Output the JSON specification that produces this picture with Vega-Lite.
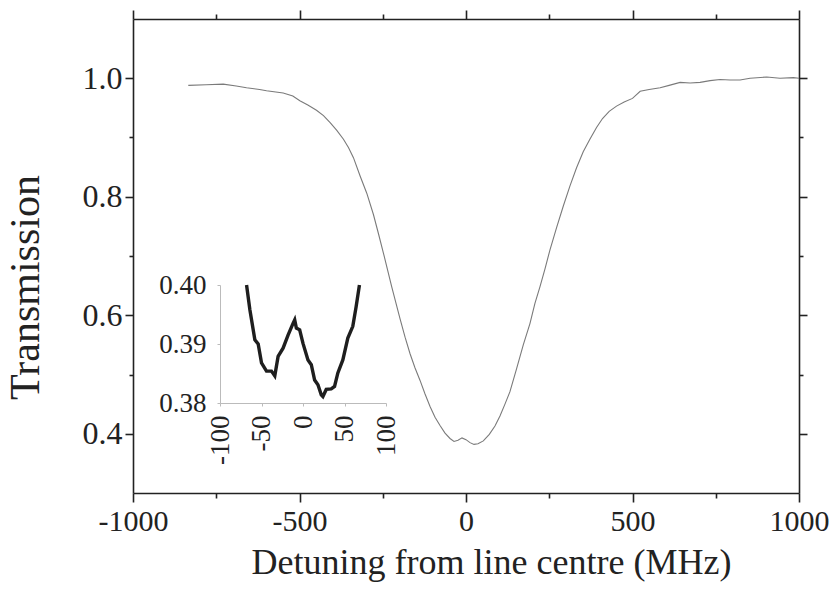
{
  "$schema": "https://vega.github.io/schema/vega-lite/v6.json",
  "width": 666,
  "height": 474,
  "autosize": "none",
  "padding": {"left": 133, "top": 19, "right": 39, "bottom": 103},
  "background": "white",
  "config": {
    "view": {"stroke": null},
    "font": "Liberation Serif",
    "axis": {"grid": false, "labelFont": "Liberation Serif", "titleFont": "Liberation Serif", "titleFontWeight": "normal", "labelColor": "#222", "titleColor": "#222"}
  },
  "datasets": {
    "main": [
      {"d": -834, "t": 0.988}, {"d": -780, "t": 0.989}, {"d": -729, "t": 0.990}, {"d": -690, "t": 0.987},
      {"d": -659, "t": 0.984}, {"d": -620, "t": 0.981}, {"d": -599, "t": 0.979}, {"d": -549, "t": 0.975},
      {"d": -520, "t": 0.970}, {"d": -499, "t": 0.962}, {"d": -475, "t": 0.955}, {"d": -449, "t": 0.946},
      {"d": -428, "t": 0.937}, {"d": -408, "t": 0.925}, {"d": -388, "t": 0.912}, {"d": -368, "t": 0.897},
      {"d": -353, "t": 0.883}, {"d": -338, "t": 0.866}, {"d": -318, "t": 0.835}, {"d": -298, "t": 0.806},
      {"d": -278, "t": 0.770}, {"d": -263, "t": 0.738}, {"d": -248, "t": 0.705}, {"d": -223, "t": 0.648},
      {"d": -198, "t": 0.594}, {"d": -183, "t": 0.563}, {"d": -168, "t": 0.535}, {"d": -153, "t": 0.511},
      {"d": -138, "t": 0.490}, {"d": -123, "t": 0.467}, {"d": -108, "t": 0.446}, {"d": -93, "t": 0.428},
      {"d": -78, "t": 0.414}, {"d": -63, "t": 0.401}, {"d": -48, "t": 0.392}, {"d": -36, "t": 0.387},
      {"d": -24, "t": 0.389}, {"d": -12, "t": 0.393}, {"d": 0, "t": 0.390}, {"d": 12, "t": 0.385},
      {"d": 24, "t": 0.382}, {"d": 36, "t": 0.383}, {"d": 52, "t": 0.388}, {"d": 70, "t": 0.399},
      {"d": 87, "t": 0.413}, {"d": 102, "t": 0.430}, {"d": 117, "t": 0.450}, {"d": 132, "t": 0.471},
      {"d": 152, "t": 0.510}, {"d": 172, "t": 0.550}, {"d": 192, "t": 0.586}, {"d": 207, "t": 0.620},
      {"d": 222, "t": 0.648}, {"d": 237, "t": 0.678}, {"d": 252, "t": 0.710}, {"d": 272, "t": 0.748},
      {"d": 292, "t": 0.784}, {"d": 312, "t": 0.818}, {"d": 332, "t": 0.849}, {"d": 352, "t": 0.876},
      {"d": 372, "t": 0.897}, {"d": 392, "t": 0.917}, {"d": 410, "t": 0.932}, {"d": 430, "t": 0.944},
      {"d": 452, "t": 0.953}, {"d": 475, "t": 0.960}, {"d": 500, "t": 0.966}, {"d": 523, "t": 0.978},
      {"d": 550, "t": 0.981}, {"d": 583, "t": 0.984}, {"d": 610, "t": 0.988}, {"d": 643, "t": 0.993},
      {"d": 673, "t": 0.992}, {"d": 703, "t": 0.993}, {"d": 733, "t": 0.996}, {"d": 763, "t": 0.998},
      {"d": 793, "t": 0.997}, {"d": 823, "t": 0.997}, {"d": 853, "t": 1.000}, {"d": 903, "t": 1.002},
      {"d": 943, "t": 1.000}, {"d": 983, "t": 1.001}, {"d": 1000, "t": 1.000}
    ],
    "inset": [
      {"d": -68, "t": 0.4000}, {"d": -64, "t": 0.3958}, {"d": -58, "t": 0.3907}, {"d": -54, "t": 0.3900},
      {"d": -50, "t": 0.3868}, {"d": -44, "t": 0.3854}, {"d": -38, "t": 0.3854}, {"d": -34, "t": 0.3846},
      {"d": -30, "t": 0.3879}, {"d": -24, "t": 0.3893}, {"d": -18, "t": 0.3915}, {"d": -12, "t": 0.3935},
      {"d": -10, "t": 0.3941}, {"d": -8, "t": 0.3927}, {"d": -4, "t": 0.3924}, {"d": 0, "t": 0.3901},
      {"d": 6, "t": 0.3873}, {"d": 10, "t": 0.3865}, {"d": 14, "t": 0.3839}, {"d": 18, "t": 0.3831},
      {"d": 22, "t": 0.3814}, {"d": 24, "t": 0.3811}, {"d": 28, "t": 0.3823}, {"d": 34, "t": 0.3824},
      {"d": 38, "t": 0.3828}, {"d": 42, "t": 0.3851}, {"d": 48, "t": 0.3873}, {"d": 54, "t": 0.3910},
      {"d": 60, "t": 0.3930}, {"d": 64, "t": 0.3963}, {"d": 68, "t": 0.4000}
    ]
  },
  "layer": [
    {
      "data": {"name": "main"},
      "mark": {"type": "line", "color": "#7a7a7a", "strokeWidth": 1.1},
      "encoding": {
        "x": {"field": "d", "type": "quantitative",
          "scale": {"domain": [-1000, 1000], "nice": false},
          "axis": {"orient": "bottom", "values": [-1000, -750, -500, -250, 0, 250, 500, 750, 1000],
            "labelExpr": "datum.value % 500 === 0 ? '' + datum.value : ''",
            "tickSize": {"condition": {"test": "datum.value % 500 !== 0", "value": 5}, "value": 9},
            "domainColor": "#222", "domainWidth": 1.6, "tickColor": "#222", "tickWidth": 1.6,
            "labelFontSize": 30, "labelPadding": 4, "labelFlush": false,
            "title": "Detuning from line centre (MHz)", "titleFontSize": 36,
            "titleX": 358, "titleY": 80, "titleBaseline": "alphabetic", "titleAnchor": null}},
        "y": {"field": "t", "type": "quantitative",
          "scale": {"domain": [0.3, 1.1], "nice": false, "zero": false},
          "axis": {"orient": "left", "values": [0.4, 0.5, 0.6, 0.7, 0.8, 0.9, 1.0],
            "labelExpr": "round(datum.value * 10) % 2 === 0 ? format(datum.value, '.1f') : ''",
            "tickSize": {"condition": {"test": "round(datum.value * 10) % 2 !== 0", "value": 4}, "value": 8},
            "domainColor": "#222", "domainWidth": 1.6, "tickColor": "#222", "tickWidth": 1.6,
            "labelFontSize": 32, "labelPadding": 3, "labelFlush": false,
            "title": "Transmission", "titleFontSize": 42,
            "titleX": -95, "titleY": 268, "titleAngle": 270, "titleBaseline": "alphabetic"}}
      }
    },
    {
      "data": {"name": "main"},
      "mark": {"type": "line", "opacity": 0},
      "encoding": {
        "x": {"field": "d", "type": "quantitative",
          "scale": {"domain": [-1000, 1000], "nice": false},
          "axis": {"orient": "top", "values": [-1000, -750, -500, -250, 0, 250, 500, 750, 1000],
            "labels": false, "title": null,
            "tickSize": {"condition": {"test": "datum.value % 500 !== 0", "value": 5}, "value": 9},
            "domainColor": "#222", "domainWidth": 1.6, "tickColor": "#222", "tickWidth": 1.6}},
        "y": {"field": "t", "type": "quantitative",
          "scale": {"domain": [0.3, 1.1], "nice": false, "zero": false},
          "axis": {"orient": "right", "values": [0.4, 0.5, 0.6, 0.7, 0.8, 0.9, 1.0],
            "labels": false, "title": null,
            "tickSize": {"condition": {"test": "round(datum.value * 10) % 2 !== 0", "value": 4}, "value": 8},
            "domainColor": "#222", "domainWidth": 1.6, "tickColor": "#222", "tickWidth": 1.6}}
      }
    },
    {
      "data": {"name": "inset"},
      "mark": {"type": "line", "color": "#1e1e1e", "strokeWidth": 3.4},
      "encoding": {
        "x": {"field": "d", "type": "quantitative",
          "scale": {"domain": [-100, 100], "range": [87, 253], "nice": false},
          "axis": {"orient": "bottom", "offset": -90, "values": [-100, -50, 0, 50, 100],
            "labelExpr": "'' + datum.value",
            "labelAngle": 270, "labelFontSize": 27, "labelPadding": 9, "labelFlush": false,
            "domainColor": "#bbbbbb", "domainWidth": 1, "tickColor": "#bbbbbb", "tickSize": 3, "tickWidth": 1,
            "title": null}},
        "y": {"field": "t", "type": "quantitative",
          "scale": {"domain": [0.38, 0.40], "range": [384, 266], "nice": false, "zero": false},
          "axis": {"orient": "left", "offset": -87, "values": [0.38, 0.39, 0.40], "format": ".2f",
            "labelFontSize": 27, "labelPadding": 11, "labelFlush": false,
            "domainColor": "#bbbbbb", "domainWidth": 1, "tickColor": "#bbbbbb", "tickSize": 3, "tickWidth": 1,
            "title": null}}
      }
    }
  ],
  "resolve": {"scale": {"x": "independent", "y": "independent"}, "axis": {"x": "independent", "y": "independent"}}
}
